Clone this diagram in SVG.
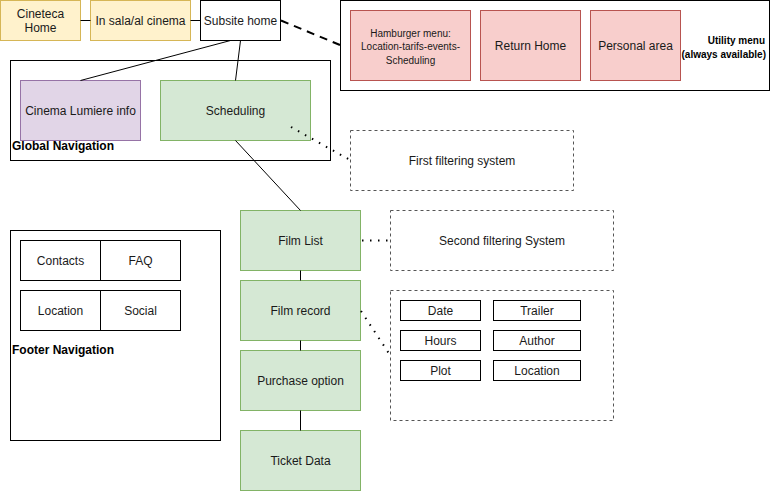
<svg xmlns="http://www.w3.org/2000/svg" width="771" height="491" viewBox="0 0 771 491">
<style>
text{font-family:"Liberation Sans",Arial,sans-serif;font-size:12px;fill:#1a1a1a;text-anchor:middle}
.b{font-weight:bold;fill:#000;text-anchor:start}
.s{font-size:10px}
.y{fill:#fff2cc;stroke:#d6b656}
.w{fill:#fff;stroke:#000}
.c{fill:none;stroke:#000}
.p{fill:#e1d5e7;stroke:#9673a6}
.g{fill:#d5e8d4;stroke:#82b366}
.r{fill:#f8cecc;stroke:#b85450}
.d{fill:#fff;stroke:#555;stroke-dasharray:3 3}
.ln{stroke:#000;fill:none}
.dot{stroke:#000;fill:none;stroke-width:2;stroke-dasharray:1.5 6.5}
.dash{stroke:#000;fill:none;stroke-width:2;stroke-dasharray:8 6}
</style>
<rect width="771" height="491" fill="#fff"/>
<g id="containers">
<rect id="global-nav" class="c" x="10.5" y="60.5" width="320" height="100"/>
<rect id="utility" class="c" x="340.5" y="0.5" width="429" height="90"/>
<rect id="footer" class="c" x="10.5" y="230.5" width="210" height="210"/>
<text class="b" x="12" y="150">Global Navigation</text>
<text class="b" x="12" y="354">Footer Navigation</text>
<text class="b s" x="765" y="44" style="text-anchor:end">Utility menu</text>
<text class="b s" x="766" y="58" style="text-anchor:end">(always available)</text>
</g>
<g id="cineteca-home"><rect class="y" x="0.5" y="0.5" width="80" height="40"/><text x="40.5" y="18">Cineteca</text><text x="40.5" y="32">Home</text></g>
<g id="in-sala"><rect class="y" x="90.5" y="0.5" width="100" height="40"/><text x="140.5" y="25">In sala/al cinema</text></g>
<g id="subsite-home"><rect class="w" x="200.5" y="0.5" width="80" height="40"/><text x="240.5" y="25">Subsite home</text></g>
<g id="hamburger"><rect class="r" x="350.5" y="10.5" width="120" height="70"/><text class="s" x="410.5" y="36.5">Hamburger menu:</text><text class="s" x="410.5" y="50">Location-tarifs-events-</text><text class="s" x="410.5" y="64">Scheduling</text></g>
<g id="return-home"><rect class="r" x="480.5" y="10.5" width="100" height="70"/><text x="530.5" y="50">Return Home</text></g>
<g id="personal-area"><rect class="r" x="590.5" y="10.5" width="90" height="70"/><text x="635.5" y="50">Personal area</text></g>
<g id="cinema-lumiere"><rect class="p" x="20.5" y="80.5" width="120" height="60"/><text x="80.5" y="115">Cinema Lumiere info</text></g>
<g id="scheduling"><rect class="g" x="160.5" y="80.5" width="150" height="60"/><text x="235.5" y="115">Scheduling</text></g>
<g id="first-filter"><rect class="d" x="350.5" y="130.5" width="223" height="60"/><text x="462" y="165">First filtering system</text></g>
<g id="film-list"><rect class="g" x="240.5" y="210.5" width="120" height="60"/><text x="300.5" y="245">Film List</text></g>
<g id="second-filter"><rect class="d" x="390.5" y="210.5" width="223" height="60"/><text x="502" y="245">Second filtering System</text></g>
<g id="film-record"><rect class="g" x="240.5" y="280.5" width="120" height="60"/><text x="300.5" y="315">Film record</text></g>
<g id="purchase"><rect class="g" x="240.5" y="350.5" width="120" height="60"/><text x="300.5" y="385">Purchase option</text></g>
<g id="ticket-data"><rect class="g" x="240.5" y="430.5" width="120" height="60"/><text x="300.5" y="465">Ticket Data</text></g>
<g id="details"><rect class="d" x="390.5" y="290.5" width="223" height="130"/></g>
<g id="date"><rect class="w" x="400.5" y="300.5" width="80" height="20"/><text x="440.5" y="315">Date</text></g>
<g id="trailer"><rect class="w" x="493.5" y="300.5" width="87" height="20"/><text x="537" y="315">Trailer</text></g>
<g id="hours"><rect class="w" x="400.5" y="330.5" width="80" height="20"/><text x="440.5" y="345">Hours</text></g>
<g id="author"><rect class="w" x="493.5" y="330.5" width="87" height="20"/><text x="537" y="345">Author</text></g>
<g id="plot"><rect class="w" x="400.5" y="360.5" width="80" height="20"/><text x="440.5" y="375">Plot</text></g>
<g id="location-d"><rect class="w" x="493.5" y="360.5" width="87" height="20"/><text x="537" y="375">Location</text></g>
<g id="contacts"><rect class="w" x="20.5" y="240.5" width="80" height="40"/><text x="60.5" y="265">Contacts</text></g>
<g id="faq"><rect class="w" x="100.5" y="240.5" width="80" height="40"/><text x="140.5" y="265">FAQ</text></g>
<g id="location-f"><rect class="w" x="20.5" y="290.5" width="80" height="40"/><text x="60.5" y="315">Location</text></g>
<g id="social"><rect class="w" x="100.5" y="290.5" width="80" height="40"/><text x="140.5" y="315">Social</text></g>
<g id="connectors">
<line class="ln" x1="80.5" y1="20.5" x2="90.5" y2="20.5"/>
<line class="ln" x1="190.5" y1="20.5" x2="200.5" y2="20.5"/>
<line class="ln" x1="230.5" y1="40.5" x2="80.5" y2="80.5"/>
<line class="ln" x1="240.5" y1="40.5" x2="235.5" y2="80.5"/>
<line class="dash" x1="281" y1="20.5" x2="340" y2="45"/>
<line class="dot" x1="291" y1="127" x2="350" y2="160"/>
<line class="ln" x1="235.5" y1="140.5" x2="300.5" y2="210.5"/>
<line class="dot" x1="362" y1="240.5" x2="390" y2="240.5"/>
<line class="ln" x1="300.5" y1="270.5" x2="300.5" y2="280.5"/>
<line class="dot" x1="361" y1="311" x2="390" y2="355"/>
<line class="ln" x1="300.5" y1="340.5" x2="300.5" y2="350.5"/>
<line class="ln" x1="300.5" y1="410.5" x2="300.5" y2="430.5"/>
</g>
</svg>
